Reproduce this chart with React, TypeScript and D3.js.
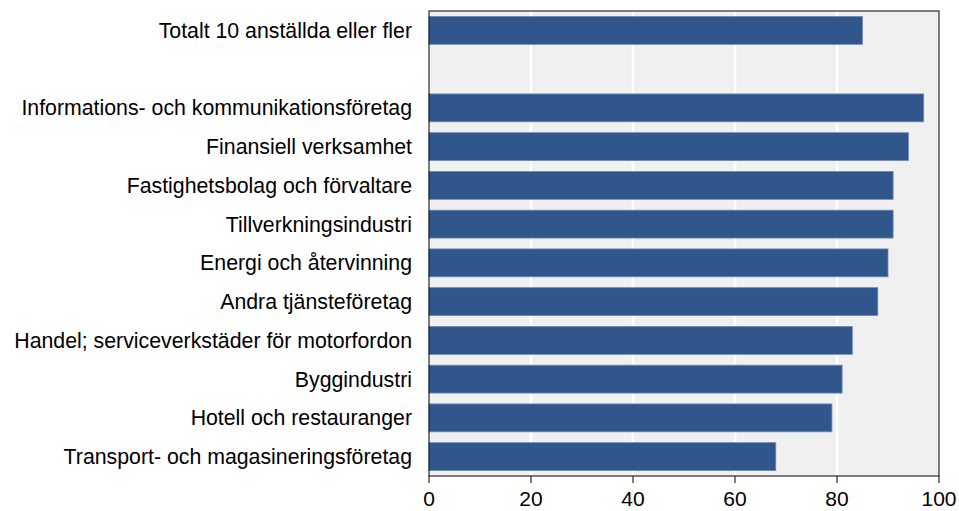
import React from "react";
import * as d3 from "d3";

const categories = [
  "Totalt 10 anställda eller fler",
  "",
  "Informations- och kommunikationsföretag",
  "Finansiell verksamhet",
  "Fastighetsbolag och förvaltare",
  "Tillverkningsindustri",
  "Energi och återvinning",
  "Andra tjänsteföretag",
  "Handel; serviceverkstäder för motorfordon",
  "Byggindustri",
  "Hotell och restauranger",
  "Transport- och magasineringsföretag",
];
const values: (number | null)[] = [85, null, 97, 94, 91, 91, 90, 88, 83, 81, 79, 68];
const ticks = [0, 20, 40, 60, 80, 100];

const W = 959;
const H = 511;
const left = 429;
const right = 939;
const top = 11;
const bottom = 476;

export default function App() {
  const x = d3.scaleLinear().domain([0, 100]).range([left, right]);
  const y = d3
    .scaleBand<string>()
    .domain(categories.map((c, i) => String(i)))
    .range([top, bottom])
    .paddingInner(0.28)
    .paddingOuter(0.14);
  const font = "'Liberation Sans', Arial, sans-serif";
  return (
    <svg
      width={W}
      height={H}
      style={{ position: "absolute", left: 0, top: 0 }}
      fontFamily={font}
    >
      <rect x={left} y={top} width={right - left} height={bottom - top} fill="#f0f0f0" />
      {ticks.slice(1, -1).map((t) => (
        <line key={t} x1={x(t)} x2={x(t)} y1={top} y2={bottom} stroke="#ffffff" strokeWidth={2.5} />
      ))}
      {values.map((v, i) =>
        v == null ? null : (
          <rect
            key={i}
            x={x(0)}
            y={y(String(i))!}
            width={x(v) - x(0)}
            height={y.bandwidth()}
            fill="#30568c"
            stroke="#6f8bb5"
            strokeWidth={0.8}
          />
        )
      )}
      <rect x={left} y={top} width={right - left} height={bottom - top} fill="none" stroke="#000" strokeWidth={1} />
      {ticks.map((t) => (
        <g key={t}>
          <line x1={x(t)} x2={x(t)} y1={bottom} y2={bottom + 7} stroke="#000" strokeWidth={1} />
          <text x={x(t)} y={bottom + 30} textAnchor="middle" fontSize={21} fill="#000">
            {t}
          </text>
        </g>
      ))}
      {categories.map((c, i) =>
        c ? (
          <text
            key={i}
            x={left - 17}
            y={y(String(i))! + y.bandwidth() / 2}
            dy="0.35em"
            textAnchor="end"
            fontSize={21.3}
            fill="#000"
          >
            {c}
          </text>
        ) : null
      )}
    </svg>
  );
}
